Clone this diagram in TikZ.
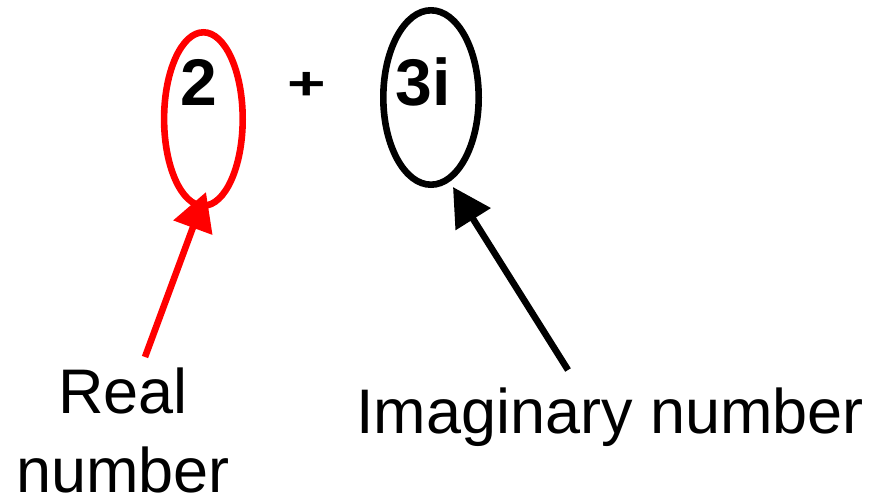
\documentclass[tikz,border=0pt]{standalone}
\usepackage{fontspec}
\setmainfont{Liberation Sans}
\usetikzlibrary{arrows.meta}

\tikzset{
	term/.style={font=\fontsize{33}{38}\selectfont\bfseries,inner sep=0pt,anchor=base},
	caption/.style={font=\fontsize{31.5}{39.5}\selectfont,inner sep=0pt,align=center},
	ring/.style={line width=3.3pt},
	pointer/.style={line width=3.3pt,-{Triangle[length=19pt,width=20pt]}}
}

\begin{document}
\begin{tikzpicture}[x=0.5pt,y=-0.5pt]
			\useasboundingbox (0,0) rectangle (873,494);
			
			% --- the sum ---
			\node[term] (two) at (199,105) {2};
			\node[term,yscale=0.7] (plus) at (307,99) {+};
			\node[term] (threei) at (423,105) {3i};
			
			% rings round the two parts
			\draw[ring,red] (203.4,119) ellipse [x radius=39.3,y radius=86.7];
			\draw[ring] (431,97.5) ellipse [x radius=47.7,y radius=87.2];
			
			% --- labels ---
			\node[caption,anchor=base] (reallabel) at (123,492) {Real\\number};
			\node[caption,anchor=base] (imaglabel) at (610,433) {Imaginary number};
			
			% arrow ends
			\coordinate (realtail) at (145,357);
			\coordinate (realtip) at (206,192);
			\coordinate (imagtail) at (568,370);
			\coordinate (imagtip) at (453,187);
			
			% --- arrows ---
			\draw[pointer,red] (realtail) -- (realtip);
			\draw[pointer] (imagtail) -- (imagtip);
			
		\end{tikzpicture}
\end{document}
